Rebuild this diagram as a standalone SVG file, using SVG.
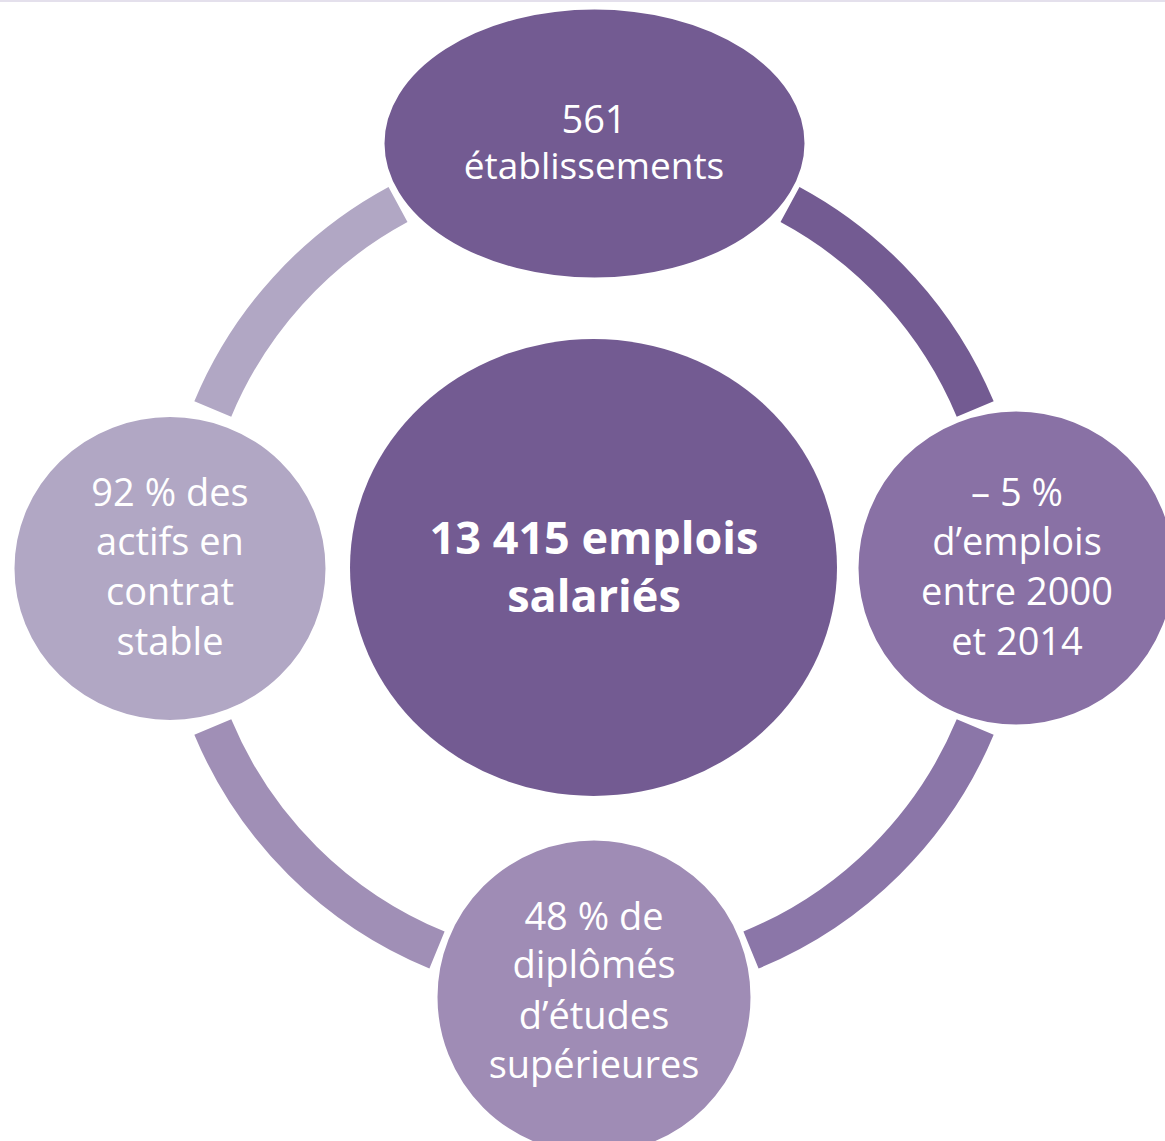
<svg xmlns="http://www.w3.org/2000/svg" width="1165" height="1141" viewBox="0 0 1165 1141">
<style>
.arc{fill:none;stroke-width:40;stroke-linecap:butt}
.node{stroke:#ffffff;stroke-width:5}
.t{font-family:"Open Sans","Liberation Sans",sans-serif;font-size:38px;fill:#ffffff;text-anchor:middle}
.b{font-family:"Open Sans","Liberation Sans",sans-serif;font-size:45px;font-weight:bold;fill:#ffffff;text-anchor:middle}
</style>
<rect x="0" y="0" width="1165" height="1141" fill="#ffffff"/>
<rect x="0" y="0" width="1165" height="2" fill="#e4e0ec"/>
<g id="connectors">
<path class="arc" stroke="#b1a7c4" d="M212.8,409 A413,413 0 0 1 398,204.5"/>
<path class="arc" stroke="#735b92" d="M790,204.5 A413,413 0 0 1 975.2,409"/>
<path class="arc" stroke="#8b76a8" d="M975.2,727 A413,413 0 0 1 751,950"/>
<path class="arc" stroke="#a08fb6" d="M437,950 A413,413 0 0 1 212.8,727"/>
</g>
<g id="center">
<ellipse cx="593.5" cy="567.5" rx="243.5" ry="228.5" fill="#735b92"/>
<text class="b" x="594" y="554">13 415 emplois</text>
<text class="b" x="594" y="612">salariés</text>
</g>
<g id="node-top">
<ellipse class="node" cx="594.5" cy="143.5" rx="212.5" ry="136.5" fill="#735b92"/>
<text class="t" x="594" y="133">561</text>
<text class="t" x="594" y="179" style="font-size:37px">établissements</text>
</g>
<g id="node-right">
<ellipse class="node" cx="1016" cy="568" rx="160" ry="159" fill="#8971a5"/>
<text class="t" x="1017" y="506">– 5 %</text>
<text class="t" x="1017" y="555">d’emplois</text>
<text class="t" x="1017" y="605">entre 2000</text>
<text class="t" x="1017" y="655">et 2014</text>
</g>
<g id="node-bottom">
<ellipse class="node" cx="594" cy="997" rx="159" ry="159" fill="#9f8cb5"/>
<text class="t" x="594" y="930">48 % de</text>
<text class="t" x="594" y="978">diplômés</text>
<text class="t" x="594" y="1029">d’études</text>
<text class="t" x="594" y="1078">supérieures</text>
</g>
<g id="node-left">
<ellipse class="node" cx="170" cy="568.5" rx="158" ry="154" fill="#b1a7c4"/>
<text class="t" x="170" y="506">92 % des</text>
<text class="t" x="170" y="555">actifs en</text>
<text class="t" x="170" y="605">contrat</text>
<text class="t" x="170" y="655">stable</text>
</g>
</svg>
